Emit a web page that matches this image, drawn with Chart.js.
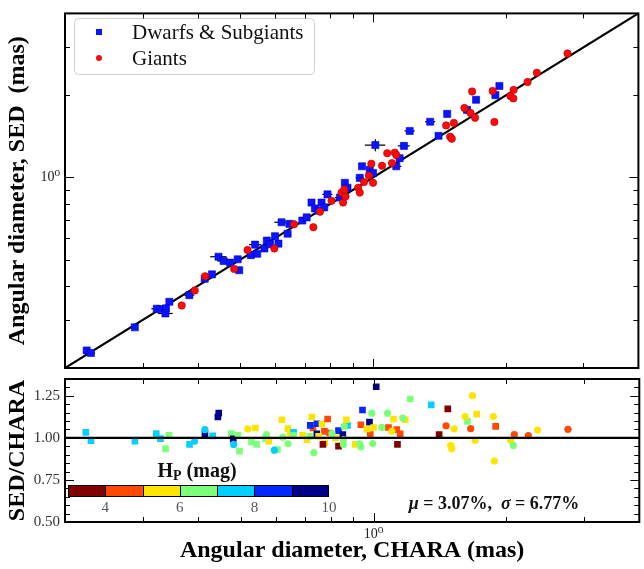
<!DOCTYPE html>
<html>
<head>
<meta charset="utf-8">
<script src="https://cdn.jsdelivr.net/npm/chart.js@4.4.1/dist/chart.umd.min.js"></script>
<style>
  html, body { margin: 0; padding: 0; background: #fff; }
  #wrap { position: relative; width: 644px; height: 569px; }
  #wrap canvas { position: absolute; left: 0; top: 0; }
</style>
</head>
<body>
<div id="wrap">
  <canvas id="top-canvas" width="644" height="569"></canvas>
  <canvas id="ratio-canvas" width="644" height="569"></canvas>
  <canvas id="cbar-canvas" width="644" height="569"></canvas>
</div>
<script>
// angular diameters (mas), top panel
const dwarfChara = [0.224, 0.229, 0.288, 0.323, 0.329, 0.339, 0.338, 0.345, 0.383, 0.415, 0.431, 0.446, 0.458, 0.474, 0.493, 0.497, 0.528, 0.540, 0.546, 0.567, 0.574, 0.584, 0.599, 0.610, 0.620, 0.640, 0.646, 0.691, 0.707, 0.725, 0.738, 0.751, 0.764, 0.775, 0.788, 0.841, 0.863, 0.875, 0.933, 0.944, 0.983, 1.000, 1.012, 1.129, 1.149, 1.175, 1.211, 1.348, 1.408, 1.473, 1.634, 1.713, 1.895, 1.935];
const dwarfSed = [0.232, 0.227, 0.282, 0.330, 0.329, 0.331, 0.317, 0.350, 0.370, 0.425, 0.441, 0.512, 0.494, 0.487, 0.501, 0.457, 0.519, 0.567, 0.525, 0.549, 0.587, 0.569, 0.609, 0.572, 0.685, 0.622, 0.676, 0.695, 0.714, 0.809, 0.770, 0.756, 0.809, 0.777, 0.867, 0.844, 0.956, 0.917, 0.997, 1.099, 1.068, 1.039, 1.315, 1.099, 1.177, 1.306, 1.482, 1.602, 1.422, 1.712, 1.770, 1.928, 2.005, 2.167];
const dwarfCharaErr = [0, 0.005, 0, 0.009, 0, 0, 0.013, 0, 0.010, 0, 0, 0.019, 0.015, 0, 0, 0, 0, 0.017, 0, 0, 0, 0, 0, 0, 0.023, 0, 0, 0, 0, 0, 0, 0, 0, 0, 0.021, 0.022, 0, 0, 0.020, 0, 0, 0, 0.054, 0.030, 0.030, 0.037, 0.032, 0.036, 0, 0, 0, 0, 0, 0];
const dwarfSedErr = [0, 0, 0, 0, 0, 0, 0, 0, 0, 0, 0, 0, 0, 0, 0, 0, 0, 0, 0, 0, 0, 0, 0, 0, 0, 0, 0, 0, 0, 0, 0, 0, 0, 0, 0, 0, 0, 0, 0, 0, 0, 0, 0.066, 0, 0, 0, 0, 0, 0, 0, 0, 0, 0, 0];

const giantChara = [0.368, 0.394, 0.416, 0.484, 0.519, 0.597, 0.662, 0.732, 0.758, 0.805, 0.848, 0.860, 0.855, 0.866, 0.925, 0.933, 0.954, 0.978, 1.000, 0.991, 1.048, 1.077, 1.104, 1.120, 1.129, 1.465, 1.496, 1.509, 1.525, 1.612, 1.664, 1.704, 1.678, 1.868, 1.885, 2.049, 2.081, 2.084, 2.242, 2.353, 2.762];
const giantSed = [0.339, 0.385, 0.434, 0.462, 0.542, 0.549, 0.674, 0.657, 0.749, 0.821, 0.880, 0.904, 0.809, 0.851, 0.917, 0.880, 0.962, 1.016, 0.956, 1.123, 1.104, 1.227, 1.129, 1.234, 1.210, 1.553, 1.410, 1.387, 1.585, 1.799, 1.726, 1.656, 2.068, 2.078, 1.598, 1.989, 1.951, 2.096, 2.240, 2.422, 2.851];

// ratio panel
const ratioDwarfChara = [0.223, 0.229, 0.288, 0.322, 0.329, 0.344, 0.338, 0.383, 0.415, 0.432, 0.446, 0.444, 0.476, 0.481, 0.493, 0.497, 0.540, 0.529, 0.544, 0.569, 0.579, 0.606, 0.620, 0.640, 0.648, 0.659, 0.659, 0.691, 0.707, 0.717, 0.725, 0.729, 0.719, 0.744, 0.764, 0.787, 0.744, 0.774, 0.751, 0.775, 0.795, 0.768, 0.820, 0.833, 0.852, 0.873, 0.868, 0.833, 0.909, 0.936, 0.944, 0.983, 0.979, 1.000, 0.966, 1.014, 1.110, 1.081, 1.129, 1.149, 1.133, 1.211, 1.351, 1.473, 1.180, 1.713, 1.632, 1.891, 1.408];
const ratioDwarf = [1.033, 0.984, 0.980, 1.025, 0.996, 1.015, 0.935, 0.961, 1.025, 1.012, 1.147, 1.124, 1.025, 0.994, 1.015, 0.921, 1.059, 0.976, 0.961, 0.996, 0.980, 0.931, 1.108, 1.055, 1.019, 1.033, 1.014, 1.015, 0.990, 1.009, 1.124, 1.059, 1.074, 1.084, 1.082, 1.112, 1.024, 1.039, 1.009, 0.971, 1.029, 0.961, 1.000, 1.043, 1.019, 1.074, 1.108, 0.951, 0.961, 1.078, 1.166, 1.019, 1.094, 1.062, 1.053, 1.304, 1.112, 1.062, 1.049, 1.024, 0.961, 1.231, 1.196, 1.172, 1.108, 1.141, 1.098, 1.068, 1.019];
const ratioDwarfHp = [7.5, 7.5, 7.5, 7.5, 7.5, 6.5, 6.5, 7.5, 9.5, 7.5, 9.5, 9.5, 6.5, 9.5, 6.5, 6.5, 5.5, 6.5, 6.5, 6.5, 5.5, 6.5, 5.5, 5.5, 5.5, 7.5, 6.5, 5.5, 5.5, 6.5, 5.5, 4.5, 8.5, 8.5, 5.5, 4.5, 9.5, 4.5, 5.5, 5.5, 4.5, 3.5, 5.5, 8.5, 9.5, 7.5, 5.5, 3.5, 5.5, 4.5, 8.5, 4.5, 9.5, 5.5, 5.5, 9.5, 5.5, 4.5, 4.5, 4.5, 3.5, 6.5, 7.5, 3.5, 5.5, 5.5, 6.5, 4.5, 3.5];

const ratioGiantChara = [0.393, 0.415, 0.482, 0.519, 0.572, 0.596, 0.623, 0.640, 0.732, 0.805, 0.858, 0.855, 0.855, 0.930, 0.936, 0.991, 0.996, 1.044, 1.076, 1.100, 1.165, 1.675, 1.612, 1.868, 1.460, 1.523, 1.660, 1.496, 1.504, 1.699, 2.084, 2.045, 2.073, 2.242, 2.353, 2.757, 1.878];
const ratioGiant = [0.980, 1.049, 0.961, 1.053, 1.019, 0.927, 1.004, 0.965, 0.912, 1.025, 1.068, 0.990, 0.961, 0.965, 0.947, 1.147, 0.966, 1.062, 1.147, 1.039, 1.118, 1.251, 1.127, 1.127, 1.072, 1.053, 1.055, 0.956, 0.935, 0.986, 1.019, 0.986, 0.955, 1.014, 1.047, 1.051, 0.862];
const ratioGiantHp = [7.5, 7.5, 7.5, 5.5, 6.5, 7.5, 6.5, 6.5, 6.5, 6.5, 6.5, 6.5, 6.5, 6.5, 6.5, 6.5, 6.5, 6.5, 6.5, 5.5, 6.5, 5.5, 5.5, 5.5, 4.5, 5.5, 4.5, 5.5, 5.5, 5.5, 4.5, 5.5, 6.5, 4.5, 5.5, 4.5, 5.5];

// axes and colour scale
const axisMin = 0.2;
const axisMax = 4.0;
const logTicks = [0.2, 0.3, 0.4, 0.5, 0.6, 0.7, 0.8, 0.9, 1, 2, 3, 4];
const logMajor = [1];
const ratioTicks = [0.5, 0.55, 0.6, 0.65, 0.7, 0.75, 0.8, 0.85, 0.9, 0.95, 1.0, 1.05, 1.1, 1.15, 1.2, 1.25, 1.3];
const ratioMajor = [0.5, 0.75, 1.0, 1.25];
const hpEdges = [3, 4, 5, 6, 7, 8, 9, 10];
const hpColors = ['#800000', '#ff4800', '#ffe400', '#7cff79', '#00d0ff', '#0028ff', '#000088'];
const cbarTicks = [4, 6, 8, 10];
const statMu = 3.07;
const statSigma = 6.77;

const SERIF = "'Liberation Serif', 'DejaVu Serif', serif";

const hpColor = hp => hpColors[Math.min(hpColors.length - 1, Math.max(0, Math.floor(hp - hpEdges[0])))];
const logLabel = v => (v === 1 ? '10\u2070' : '');

const drawPieces = (ctx, pieces, cx, y) => {
  let w = 0;
  pieces.forEach(p => { ctx.font = p.font; w += ctx.measureText(p.text).width; });
  let x = cx - w / 2;
  pieces.forEach(p => {
    ctx.font = p.font;
    ctx.fillText(p.text, x, y + (p.dy || 0));
    x += ctx.measureText(p.text).width;
  });
};

// inward ticks on all four sides + black frame
const framePlugin = {
  id: 'frame',
  afterDraw(chart, args, opts) {
    const { ctx, chartArea: a, scales } = chart;
    ctx.save();
    ctx.strokeStyle = '#000';
    ctx.lineWidth = 1;
    ctx.beginPath();
    opts.xTicks.forEach(v => {
      const p = Math.round(scales.x.getPixelForValue(v)) + 0.5;
      if (p <= a.left + 1 || p >= a.right - 1) return;
      const len = opts.xMajor.includes(v) ? 9 : 5;
      ctx.moveTo(p, a.bottom); ctx.lineTo(p, a.bottom - len);
      ctx.moveTo(p, a.top); ctx.lineTo(p, a.top + len);
    });
    opts.yTicks.forEach(v => {
      const p = Math.round(scales.y.getPixelForValue(v)) + 0.5;
      if (p <= a.top + 1 || p >= a.bottom - 1) return;
      const len = opts.yMajor.includes(v) ? 9 : 5;
      ctx.moveTo(a.left, p); ctx.lineTo(a.left + len, p);
      ctx.moveTo(a.right, p); ctx.lineTo(a.right - len, p);
    });
    ctx.stroke();
    ctx.lineWidth = 2;
    ctx.strokeRect(a.left, a.top, a.right - a.left, a.bottom - a.top);
    ctx.restore();
  }
};

const errorBars = {
  id: 'errorBars',
  beforeDatasetsDraw(chart) {
    const { ctx, scales: { x, y } } = chart;
    ctx.save();
    ctx.strokeStyle = '#000';
    ctx.lineWidth = 1.2;
    chart.data.datasets.forEach(ds => {
      ds.data.forEach(p => {
        const px = x.getPixelForValue(p.x), py = y.getPixelForValue(p.y);
        ctx.beginPath();
        if (p.xe) { ctx.moveTo(x.getPixelForValue(p.x - p.xe), py); ctx.lineTo(x.getPixelForValue(p.x + p.xe), py); }
        if (p.ye) { ctx.moveTo(px, y.getPixelForValue(p.y - p.ye)); ctx.lineTo(px, y.getPixelForValue(p.y + p.ye)); }
        ctx.stroke();
      });
    });
    ctx.restore();
  }
};

const boxLegend = {
  id: 'boxLegend',
  afterDatasetsDraw(chart) {
    const { ctx } = chart;
    const items = chart.data.datasets.filter(ds => ds.inLegend);
    ctx.save();
    ctx.beginPath();
    ctx.roundRect(74.5, 18.5, 240, 56, 4);
    ctx.fillStyle = 'rgba(255,255,255,0.85)';
    ctx.fill();
    ctx.strokeStyle = '#d0d0d0';
    ctx.lineWidth = 1;
    ctx.stroke();
    items.forEach((ds, i) => {
      const y = 32 + i * 26;
      ctx.fillStyle = ds.backgroundColor;
      ctx.beginPath();
      if (ds.pointStyle === 'rect') ctx.rect(99 - 3, y - 3, 6, 6);
      else ctx.arc(99, y, 3, 0, Math.PI * 2);
      ctx.fill();
      ctx.fillStyle = '#111';
      ctx.font = `21px ${SERIF}`;
      ctx.textBaseline = 'alphabetic';
      ctx.fillText(ds.label, 132, y + 6.5);
    });
    ctx.restore();
  }
};

const statsText = {
  id: 'statsText',
  afterDraw(chart) {
    const { ctx } = chart;
    ctx.save();
    ctx.fillStyle = '#111';
    ctx.textBaseline = 'alphabetic';
    const B = `bold 18px ${SERIF}`, BI = `bold italic 18px ${SERIF}`;
    drawPieces(ctx, [
      { text: '\u03bc', font: BI },
      { text: ` = ${statMu.toFixed(2)}%,  `, font: B },
      { text: '\u03c3', font: BI },
      { text: ` = ${statSigma.toFixed(2)}%`, font: B }
    ], 494, 509);
    ctx.restore();
  }
};

const cbarDecor = {
  id: 'cbarDecor',
  afterDraw(chart) {
    const { ctx, chartArea: a, scales: { x } } = chart;
    ctx.save();
    ctx.strokeStyle = '#000';
    ctx.lineWidth = 1;
    ctx.beginPath();
    hpEdges.slice(1, -1).forEach(v => {
      const p = Math.round(x.getPixelForValue(v)) + 0.5;
      ctx.moveTo(p, a.top); ctx.lineTo(p, a.bottom);
    });
    ctx.stroke();
    ctx.strokeRect(a.left + 0.5, a.top + 0.5, a.right - a.left - 1, a.bottom - a.top - 1);
    ctx.fillStyle = '#111';
    ctx.textBaseline = 'alphabetic';
    drawPieces(ctx, [
      { text: 'H', font: `bold 20px ${SERIF}` },
      { text: 'P', font: `bold 14px ${SERIF}`, dy: 3 },
      { text: ' (mag)', font: `bold 20px ${SERIF}` }
    ], 197, 477);
    ctx.restore();
  }
};

const tickFont = size => ({ family: SERIF, size });
const titleFont = { family: SERIF, size: 24, weight: 'bold' };

// top panel
new Chart(document.getElementById('top-canvas'), {
  type: 'scatter',
  data: {
    datasets: [
      {
        label: 'Dwarfs & Subgiants',
        inLegend: true,
        data: dwarfChara.map((x, i) => ({ x, y: dwarfSed[i], xe: dwarfCharaErr[i], ye: dwarfSedErr[i] })),
        pointStyle: 'rect',
        pointRadius: 5,
        backgroundColor: '#0a14ff',
        borderColor: '#0000c8',
        borderWidth: 0.6,
        order: 2
      },
      {
        label: 'Giants',
        inLegend: true,
        data: giantChara.map((x, i) => ({ x, y: giantSed[i] })),
        pointStyle: 'circle',
        pointRadius: 3.7,
        backgroundColor: '#ff0a0a',
        borderColor: '#b40000',
        borderWidth: 0.6,
        order: 1
      },
      {
        type: 'line',
        label: '1:1',
        data: [{ x: axisMin, y: axisMin }, { x: axisMax, y: axisMax }],
        borderColor: '#000',
        borderWidth: 2.2,
        pointRadius: 0,
        order: 5
      }
    ]
  },
  options: {
    responsive: false,
    animation: false,
    events: [],
    layout: { padding: { left: 0, right: 4, top: 8, bottom: 201 } },
    plugins: {
      legend: { display: false },
      tooltip: { enabled: false },
      frame: { xTicks: logTicks, xMajor: logMajor, yTicks: logTicks, yMajor: logMajor }
    },
    scales: {
      x: { type: 'logarithmic', min: axisMin, max: axisMax, display: false },
      y: {
        type: 'logarithmic',
        min: axisMin,
        max: axisMax,
        afterFit: s => { s.width = 65; },
        afterBuildTicks: s => { s.ticks = logTicks.map(v => ({ value: v })); },
        grid: { display: false, drawTicks: false },
        border: { display: false },
        ticks: { autoSkip: false, padding: 5, color: '#222', font: tickFont(14), callback: v => logLabel(v) },
        title: { display: true, text: 'Angular diameter, SED  (mas)', color: '#000', font: titleFont, padding: { top: 3 } }
      }
    }
  },
  plugins: [errorBars, boxLegend, framePlugin]
});

// ratio panel
new Chart(document.getElementById('ratio-canvas'), {
  type: 'scatter',
  data: {
    datasets: [
      {
        label: 'Dwarfs & Subgiants',
        data: ratioDwarfChara.map((x, i) => ({ x, y: ratioDwarf[i] })),
        pointStyle: 'rect',
        pointRadius: 4.7,
        backgroundColor: ratioDwarfHp.map(hpColor),
        borderWidth: 0,
        order: 2
      },
      {
        label: 'Giants',
        data: ratioGiantChara.map((x, i) => ({ x, y: ratioGiant[i] })),
        pointStyle: 'circle',
        pointRadius: 3.6,
        backgroundColor: ratioGiantHp.map(hpColor),
        borderWidth: 0,
        order: 1
      },
      {
        type: 'line',
        label: 'unity',
        data: [{ x: axisMin, y: 1 }, { x: axisMax, y: 1 }],
        borderColor: '#000',
        borderWidth: 2.2,
        pointRadius: 0,
        order: 0
      }
    ]
  },
  options: {
    responsive: false,
    animation: false,
    events: [],
    layout: { padding: { left: 0, right: 4, top: 379, bottom: 0 } },
    plugins: {
      legend: { display: false },
      tooltip: { enabled: false },
      frame: { xTicks: logTicks, xMajor: logMajor, yTicks: ratioTicks, yMajor: ratioMajor }
    },
    scales: {
      x: {
        type: 'logarithmic',
        min: axisMin,
        max: axisMax,
        afterFit: s => { s.height = 47; },
        afterBuildTicks: s => { s.ticks = logTicks.map(v => ({ value: v })); },
        grid: { display: false, drawTicks: false },
        border: { display: false },
        ticks: { autoSkip: false, maxRotation: 0, padding: 4, color: '#222', font: tickFont(14), callback: v => logLabel(v) },
        title: { display: true, text: 'Angular diameter, CHARA (mas)', color: '#000', font: titleFont, padding: { bottom: 4 } }
      },
      y: {
        type: 'linear',
        min: 0.5,
        max: 1.35,
        afterFit: s => { s.width = 65; },
        afterBuildTicks: s => { s.ticks = ratioTicks.map(v => ({ value: v })); },
        grid: { display: false, drawTicks: false },
        border: { display: false },
        ticks: { autoSkip: false, padding: 5, color: '#333', font: tickFont(15), callback: v => (ratioMajor.includes(v) ? v.toFixed(2) : '') },
        title: { display: true, text: 'SED/CHARA', color: '#000', font: titleFont, padding: { top: 3 } }
      }
    }
  },
  plugins: [framePlugin, statsText]
});

// colour bar inset
new Chart(document.getElementById('cbar-canvas'), {
  type: 'bar',
  data: {
    labels: ['Hp'],
    datasets: hpColors.map((c, i) => ({
      data: [[hpEdges[i], hpEdges[i + 1]]],
      backgroundColor: c,
      borderWidth: 0,
      grouped: false,
      barPercentage: 1,
      categoryPercentage: 1
    }))
  },
  options: {
    indexAxis: 'y',
    responsive: false,
    animation: false,
    events: [],
    layout: { padding: { left: 68, right: 315, top: 485, bottom: 0 } },
    plugins: { legend: { display: false }, tooltip: { enabled: false } },
    scales: {
      x: {
        type: 'linear',
        min: hpEdges[0],
        max: hpEdges[hpEdges.length - 1],
        afterFit: s => { s.height = 72; },
        afterBuildTicks: s => { s.ticks = cbarTicks.map(v => ({ value: v })); },
        grid: { display: false, drawTicks: false },
        border: { display: false },
        ticks: { autoSkip: false, maxRotation: 0, padding: 2, color: '#555', font: tickFont(15) }
      },
      y: { display: false }
    }
  },
  plugins: [cbarDecor]
});
</script>
</body>
</html>
